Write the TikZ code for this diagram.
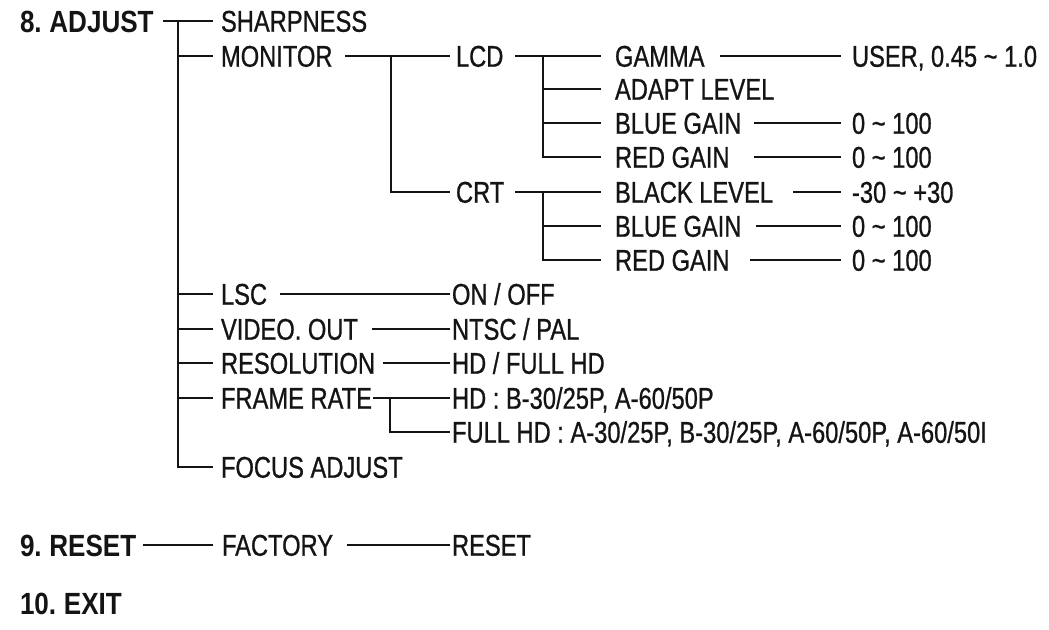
\documentclass[tikz,border=0pt]{standalone}
\usepackage{fontspec}
\setmainfont{Liberation Sans}[FakeStretch=0.79,FakeBold=0.8]
\newfontfamily\hdfont{Liberation Sans}[FakeStretch=0.85]
\definecolor{ink}{RGB}{20,20,20}
\begin{document}
\begin{tikzpicture}[x=0.75pt,y=-0.75pt,
  every node/.style={inner sep=0pt, outer sep=0pt, anchor=west, text=ink},
  item/.style={font=\fontsize{22.5}{26}\selectfont, text height=16.1pt, text depth=0pt},
  head/.style={font=\hdfont\bfseries\fontsize{23}{27}\selectfont, text height=16.5pt, text depth=0pt},
  wire/.style={draw=ink, line width=1.5pt},
]
\useasboundingbox (0,0) rectangle (1049,629);

% headings and items
\node[head] (adjust) at (20,21) {8.\hspace{-1.5pt} ADJUST};
\node[item] (sharp) at (221,21) {SHARPNESS};
\node[item] (monitor) at (221,56) {MONITOR};
\node[item] (lcd) at (456,56) {LCD};
\node[item] (gamma) at (615,56) {GAMMA};
\node[item] (user) at (852,56) {USER, 0.45 \textasciitilde{} 1.0};
\node[item] (adapt) at (615,89) {ADAPT LEVEL};
\node[item] (blue1) at (615,123) {BLUE GAIN};
\node[item] (blue1v) at (852,123) {0 \textasciitilde{} 100};
\node[item] (red1) at (615,157) {RED GAIN};
\node[item] (red1v) at (852,157) {0 \textasciitilde{} 100};
\node[item] (crt) at (456,192) {CRT};
\node[item] (black) at (615,192) {BLACK LEVEL};
\node[item] (blackv) at (852,192) {-30 \textasciitilde{} +30};
\node[item] (blue2) at (615,226) {BLUE GAIN};
\node[item] (blue2v) at (852,226) {0 \textasciitilde{} 100};
\node[item] (red2) at (615,260) {RED GAIN};
\node[item] (red2v) at (852,260) {0 \textasciitilde{} 100};
\node[item] (lsc) at (221,294) {LSC};
\node[item] (lscv) at (452,294) {ON / OFF};
\node[item] (video) at (221,329) {VIDEO. OUT};
\node[item] (videov) at (452,329) {NTSC / PAL};
\node[item] (res) at (221,363) {RESOLUTION};
\node[item] (resv) at (452,363) {HD / FULL HD};
\node[item] (frame) at (221,398) {FRAME RATE};
\node[item] (hd) at (452,398) {HD : B-30/25P, A-60/50P};
\node[item] (fhd) at (452,432) {FULL HD : A-30/25P, B-30/25P, A-60/50P, A-60/50I};
\node[item] (focus) at (221,467) {FOCUS ADJUST};
\node[head] (reset) at (20,545) {9.\hspace{-1.5pt} RESET};
\node[item] (factory) at (222,545) {FACTORY};
\node[item] (resetv) at (452,545) {RESET};
\node[head] (exit) at (20,603) {10.\hspace{-1.5pt} EXIT};

% junctions
\coordinate (trunk) at (178,21);
\coordinate (mj) at (391,56);
\coordinate (lj) at (543,56);
\coordinate (cj) at (543,192);
\coordinate (fj) at (390,398);

% main trunk
\draw[wire] (adjust.east -| 163,0) -- (sharp.west -| 213,0);
\draw[wire] (trunk) |- (focus.west -| 213,0);
\foreach \n in {monitor,lsc,video,res,frame}
  \draw[wire] (trunk |- \n.west) -- (\n.west -| 213,0);

% monitor
\draw[wire] (monitor.east -| 345,0) -- (lcd.west -| 450,0);
\draw[wire] (mj) |- (crt.west -| 450,0);

% lcd
\draw[wire] (lcd.east -| 515,0) -- (gamma.west -| 601,0);
\draw[wire] (lj) |- (red1.west -| 601,0);
\foreach \n in {adapt,blue1}
  \draw[wire] (lj |- \n.west) -- (\n.west -| 601,0);
\draw[wire] (gamma.east -| 720,0) -- (user.west -| 841,0);
\draw[wire] (blue1.east -| 754,0) -- (blue1v.west -| 841,0);
\draw[wire] (red1.east -| 754,0) -- (red1v.west -| 841,0);

% crt
\draw[wire] (crt.east -| 515,0) -- (black.west -| 601,0);
\draw[wire] (cj) |- (red2.west -| 601,0);
\draw[wire] (cj |- blue2.west) -- (blue2.west -| 601,0);
\draw[wire] (black.east -| 793,0) -- (blackv.west -| 841,0);
\draw[wire] (blue2.east -| 756,0) -- (blue2v.west -| 841,0);
\draw[wire] (red2.east -| 750,0) -- (red2v.west -| 841,0);

% lower items
\draw[wire] (lsc.east -| 280,0) -- (lscv.west -| 450,0);
\draw[wire] (video.east -| 372,0) -- (videov.west -| 450,0);
\draw[wire] (res.east -| 383,0) -- (resv.west -| 450,0);
\draw[wire] (frame.east -| 373,0) -- (hd.west -| 450,0);
\draw[wire] (fj) |- (fhd.west -| 450,0);

% reset
\draw[wire] (reset.east -| 143,0) -- (factory.west -| 213,0);
\draw[wire] (factory.east -| 347,0) -- (resetv.west -| 450,0);
\end{tikzpicture}
\end{document}
